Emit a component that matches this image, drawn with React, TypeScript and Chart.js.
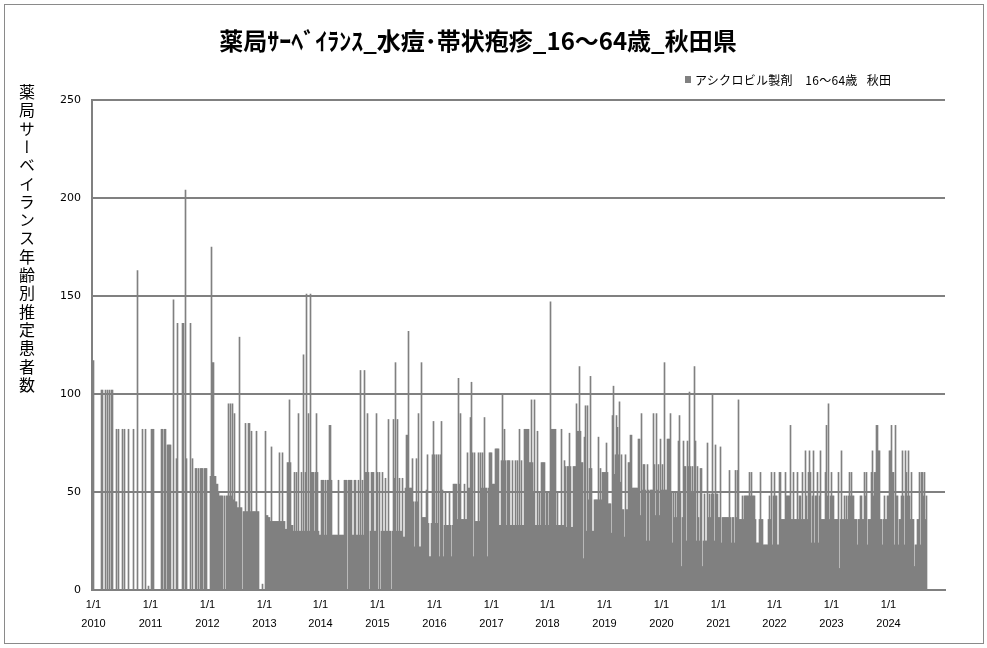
import React, { useEffect, useRef } from 'react';
import { Chart, registerables } from 'chart.js';

Chart.register(...registerables);

// ---- text ----
const chartTitle = '薬局ｻｰﾍﾞｲﾗﾝｽ_水痘･帯状疱疹_16～64歳_秋田県';
const seriesName = 'アシクロビル製剤　16～64歳   秋田';
const yAxisTitle = '薬局サーベイランス年齢別推定患者数';

// ---- axis ticks ----
const years = ['2010', '2011', '2012', '2013', '2014', '2015', '2016', '2017', '2018', '2019', '2020', '2021', '2022', '2023', '2024'];
const yearTickDay = '1/1';
const yTicks = [0, 50, 100, 150, 200, 250];

// ---- estimated patients per period (≈6.4 days each) ----
const v2010 = [117, 0, 0, 0, 0, 0, 0, 0, 102, 102, 0, 0, 102, 0, 102, 0, 102, 0, 102, 102, 0, 0, 0, 82, 0, 82, 0, 0, 0, 82, 0, 82, 0, 0, 0, 82, 0, 0, 0, 0, 82, 0, 0, 0, 163, 0, 0, 0, 0, 82, 0, 0, 82, 0, 0, 2, 0];
const v2011 = [0, 82, 82, 82, 0, 0, 0, 0, 0, 0, 0, 82, 82, 0, 82, 82, 0, 74, 74, 74, 74, 0, 0, 148, 0, 0, 67, 136, 0, 0, 0, 0, 136, 136, 0, 204, 67, 0, 0, 0, 136, 0, 67, 0, 0, 62, 62, 0, 62, 0, 62, 62, 62, 0, 62, 62, 62];
const v2012 = [0, 0, 0, 58, 175, 116, 116, 58, 58, 54, 54, 50, 48, 48, 48, 48, 0, 48, 0, 48, 48, 95, 48, 95, 48, 95, 46, 90, 45, 45, 42, 42, 129, 42, 42, 0, 40, 40, 85, 40, 40, 85, 85, 40, 81, 40, 40, 40, 40, 81, 40, 40, 0, 0, 0, 3, 0];
const v2013 = [0, 81, 38, 38, 37, 37, 35, 73, 35, 35, 35, 35, 35, 35, 35, 70, 35, 35, 70, 35, 35, 31, 31, 65, 65, 97, 65, 33, 33, 30, 60, 30, 60, 30, 90, 30, 30, 60, 30, 120, 30, 60, 151, 30, 90, 30, 151, 60, 60, 60, 30, 60, 90, 60, 30, 28];
const v2014 = [28, 56, 56, 56, 28, 56, 28, 56, 56, 84, 84, 56, 28, 28, 28, 28, 28, 28, 56, 28, 28, 28, 28, 28, 56, 56, 56, 0, 56, 56, 56, 56, 28, 28, 56, 56, 28, 28, 56, 28, 112, 28, 56, 28, 112, 60, 60, 90, 60, 0, 30, 60, 60, 60, 30, 30, 90];
const v2015 = [60, 0, 60, 0, 30, 60, 30, 30, 57, 30, 30, 87, 30, 30, 0, 30, 87, 57, 116, 30, 87, 30, 57, 30, 30, 57, 27, 27, 52, 79, 79, 132, 52, 52, 52, 67, 45, 22, 45, 67, 45, 90, 22, 22, 116, 37, 37, 37, 37, 51, 69, 34, 17, 17, 34, 69, 86];
const v2016 = [69, 34, 69, 34, 69, 17, 69, 86, 51, 17, 33, 50, 33, 33, 33, 50, 33, 17, 33, 54, 54, 54, 54, 36, 108, 54, 90, 36, 36, 36, 54, 36, 36, 70, 52, 52, 88, 106, 70, 17, 70, 35, 35, 35, 70, 35, 70, 52, 70, 52, 88, 52, 52, 17, 52, 70, 70];
const v2017 = [70, 54, 54, 54, 72, 72, 72, 72, 33, 33, 66, 100, 66, 82, 66, 33, 66, 66, 66, 33, 33, 66, 33, 33, 66, 33, 66, 33, 82, 33, 66, 33, 33, 82, 82, 82, 82, 82, 65, 65, 97, 65, 50, 97, 33, 33, 81, 33, 50, 33, 65, 65, 65, 65, 33, 50];
const v2018 = [50, 33, 50, 147, 82, 82, 82, 82, 82, 33, 50, 33, 33, 33, 82, 33, 33, 66, 63, 32, 63, 63, 80, 63, 32, 32, 63, 63, 63, 95, 81, 81, 114, 81, 65, 65, 16, 78, 94, 30, 94, 46, 62, 109, 62, 30, 30, 46, 46, 46, 46, 78, 46, 62, 46, 60, 60];
const v2019 = [60, 60, 75, 60, 44, 44, 44, 29, 89, 104, 59, 69, 89, 83, 69, 96, 55, 69, 41, 41, 27, 69, 41, 41, 65, 65, 79, 79, 52, 52, 52, 52, 52, 52, 77, 77, 38, 90, 51, 64, 64, 51, 25, 64, 51, 25, 51, 51, 51, 90, 64, 38, 90, 51, 64, 38, 77];
const v2020 = [51, 64, 51, 116, 51, 51, 77, 77, 77, 90, 50, 24, 50, 37, 50, 37, 50, 76, 89, 50, 12, 37, 76, 63, 63, 25, 76, 63, 101, 63, 50, 63, 50, 114, 76, 25, 63, 37, 25, 62, 62, 12, 25, 49, 25, 25, 75, 37, 49, 37, 49, 100, 49, 25, 74, 49, 49];
const v2021 = [37, 37, 73, 24, 37, 37, 37, 37, 37, 37, 37, 61, 37, 24, 37, 37, 24, 61, 37, 61, 97, 36, 36, 36, 48, 36, 48, 48, 48, 48, 48, 60, 48, 60, 48, 48, 48, 36, 24, 24, 24, 36, 60, 36, 36, 23, 23, 23, 23, 23, 36, 48, 36, 60, 23, 48];
const v2022 = [60, 48, 48, 23, 23, 60, 60, 36, 36, 36, 36, 60, 48, 48, 48, 48, 84, 36, 36, 60, 36, 36, 36, 60, 36, 48, 48, 36, 60, 36, 36, 71, 48, 36, 60, 71, 60, 24, 48, 71, 24, 48, 48, 60, 24, 48, 71, 36, 36, 36, 36, 60, 84, 48, 95, 36, 48];
const v2023 = [60, 48, 48, 36, 36, 36, 36, 60, 11, 36, 71, 36, 36, 48, 36, 48, 36, 48, 60, 48, 60, 48, 48, 36, 36, 36, 23, 36, 36, 48, 48, 36, 36, 60, 48, 60, 23, 36, 36, 36, 60, 71, 48, 60, 60, 84, 84, 71, 71, 36, 36, 23, 36, 48, 36, 36, 48];
const v2024 = [48, 71, 71, 84, 60, 60, 23, 84, 48, 48, 23, 36, 36, 48, 71, 48, 23, 71, 60, 48, 71, 48, 36, 60, 36, 36, 12, 23, 23, 36, 36, 60, 23, 60, 60, 48, 60, 36, 48,
  null, null, null, null, null, null, null, null, null, null, null, null, null, null, null, null, null, null];

const yearSeries: (number | null)[][] = [v2010, v2011, v2012, v2013, v2014, v2015, v2016, v2017, v2018, v2019, v2020, v2021, v2022, v2023, v2024];

const barColor = '#808080';
const gridColor = '#808080';

// y-axis line drawn just left of the plot area (so the first bar stays visible)
const leftAxisLine = {
  id: 'leftAxisLine',
  beforeDatasetsDraw(chart: any) {
    const { ctx, chartArea } = chart;
    ctx.save();
    ctx.strokeStyle = gridColor;
    ctx.lineWidth = 2;
    ctx.beginPath();
    ctx.moveTo(chartArea.left - 1, chartArea.top - 1);
    ctx.lineTo(chartArea.left - 1, chartArea.bottom + 1);
    ctx.stroke();
    ctx.restore();
  },
};

export default function App() {
  const canvasRef = useRef<HTMLCanvasElement | null>(null);

  useEffect(() => {
    const canvas = canvasRef.current;
    if (!canvas) return;
    const labels: (string | string[])[] = [];
    const values: (number | null)[] = [];
    yearSeries.forEach((arr, k) => {
      arr.forEach((v, j) => {
        labels.push(j === 0 ? [yearTickDay, years[k]] : '');
        values.push(v);
      });
    });

    const chart = new Chart(canvas, {
      type: 'bar',
      data: {
        labels,
        datasets: [
          {
            label: seriesName,
            data: values,
            backgroundColor: barColor,
            borderWidth: 0,
            barPercentage: 1,
            categoryPercentage: 1,
          },
        ],
      },
      options: {
        animation: false,
        responsive: false,
        devicePixelRatio: 1,
        events: [],
        layout: { padding: { left: 0, right: 42, top: 100, bottom: 0 } },
        plugins: {
          legend: { display: false },
          title: { display: false },
          tooltip: { enabled: false },
        },
        scales: {
          x: {
            type: 'category',
            grid: { display: false, drawTicks: false },
            border: { display: true, color: gridColor, width: 2 },
            ticks: {
              autoSkip: false,
              maxRotation: 0,
              minRotation: 0,
              padding: 5,
              color: '#000000',
              font: { family: '"Liberation Sans Narrow", "Arial Narrow", "Liberation Sans", sans-serif', size: 11, lineHeight: 1.73 },
            },
            afterFit: (s: any) => {
              s.height = 58;
            },
          },
          y: {
            type: 'linear',
            min: yTicks[0],
            max: yTicks[yTicks.length - 1],
            afterBuildTicks: (s: any) => {
              s.ticks = yTicks.map((v) => ({ value: v }));
            },
            ticks: {
              padding: 12,
              color: '#000000',
              font: { family: '"DejaVu Sans", sans-serif', size: 11 },
            },
            grid: { color: gridColor, lineWidth: 2, drawTicks: false },
            border: { display: false },
            afterFit: (s: any) => {
              s.width = 93;
            },
          },
        },
      },
      plugins: [leftAxisLine],
    });
    return () => chart.destroy();
  }, []);

  return (
    <div style={{ position: 'absolute', left: 0, top: 0, width: 987, height: 648, background: '#ffffff', overflow: 'hidden' }}>
      <canvas ref={canvasRef} width={987} height={648} style={{ position: 'absolute', left: 0, top: 0, width: 987, height: 648 }} />
      <div
        style={{
          position: 'absolute', left: 4, top: 4, width: 980, height: 640,
          border: '1px solid #8a8a8a', boxSizing: 'border-box', pointerEvents: 'none',
        }}
      />
      <div
        style={{
          position: 'absolute', left: 0, top: 25, width: 956, textAlign: 'center',
          fontFamily: '"Noto Sans CJK JP", sans-serif', fontWeight: 700, fontSize: 24, lineHeight: '30px', color: '#000',
          whiteSpace: 'pre',
        }}
      >
        {chartTitle}
      </div>
      <div style={{ position: 'absolute', left: 685, top: 76, width: 6, height: 7, background: barColor }} />
      <div
        style={{
          position: 'absolute', left: 695, top: 72, fontFamily: '"Noto Sans CJK JP", sans-serif', fontSize: 12,
          lineHeight: '16px', letterSpacing: '0.3px', color: '#000', whiteSpace: 'pre',
        }}
      >
        {seriesName}
      </div>
      <div
        style={{
          position: 'absolute', left: 18, top: 84, writingMode: 'vertical-rl', textOrientation: 'upright',
          fontFamily: '"Noto Sans CJK JP", sans-serif', fontSize: 16, lineHeight: '18px', letterSpacing: '2.3px', color: '#000',
          whiteSpace: 'pre',
        }}
      >
        {yAxisTitle}
      </div>
    </div>
  );
}
